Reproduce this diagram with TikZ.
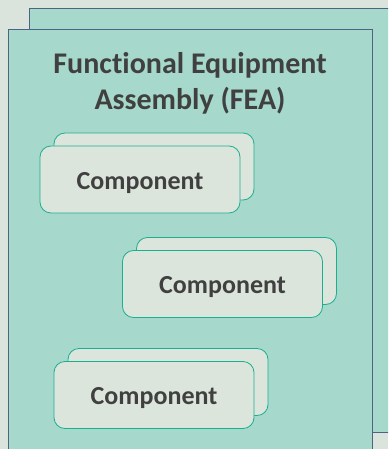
\documentclass[tikz,border=0pt]{standalone}
\usepackage{fontspec}
\setmainfont[Ligatures=NoCommon]{Carlito}
\definecolor{paleground}{HTML}{DBE4DC}
\definecolor{seafoam}{HTML}{A6D8CB}
\definecolor{slateblue}{HTML}{4C6382}
\definecolor{tealedge}{HTML}{1BAF91}
\definecolor{mistfill}{HTML}{DCE5DC}
\definecolor{inkgrey}{HTML}{404040}
\usetikzlibrary{positioning}

\begin{document}
\begin{tikzpicture}[x=1pt, y=-1pt,
    assembly/.style={rectangle, draw=slateblue, fill=seafoam, line width=0.9pt,
      minimum width=364pt, inner sep=0pt},
    compbox/.style={rectangle, draw=tealedge, fill=mistfill, line width=0.8pt,
      minimum width=200pt, minimum height=67pt, rounded corners=11pt,
      text=inkgrey, text height=19pt, text depth=0pt,
      font=\bfseries\fontsize{26}{31}\selectfont}]
  \fill[paleground] (0,0) rectangle (388,449);
  \useasboundingbox (0,0) rectangle (388,449);
  \clip (0,0) rectangle (388,449);
  % assembly sheets
  \node[assembly, minimum height=424pt, anchor=north west] (feaback) at (29,8) {};
  \node[assembly, minimum height=440pt, anchor=north west] (fea) at (8,29) {};
  \node[text=inkgrey, align=center, font=\bfseries\fontsize{30}{36}\selectfont,
    anchor=north] (title) at (190,49) {Functional Equipment\\Assembly (FEA)};
  % components, each with a sheet behind it
  \node[compbox] (compaback) at (154,166.5) {};
  \node[compbox] (compa) at (140,179.5) {Component};
  \node[compbox] (compbback) at (236.5,271) {};
  \node[compbox] (compb) at (222.5,284) {Component};
  \node[compbox] (compcback) at (168,382) {};
  \node[compbox] (compc) at (154,395) {Component};
\end{tikzpicture}
\end{document}
